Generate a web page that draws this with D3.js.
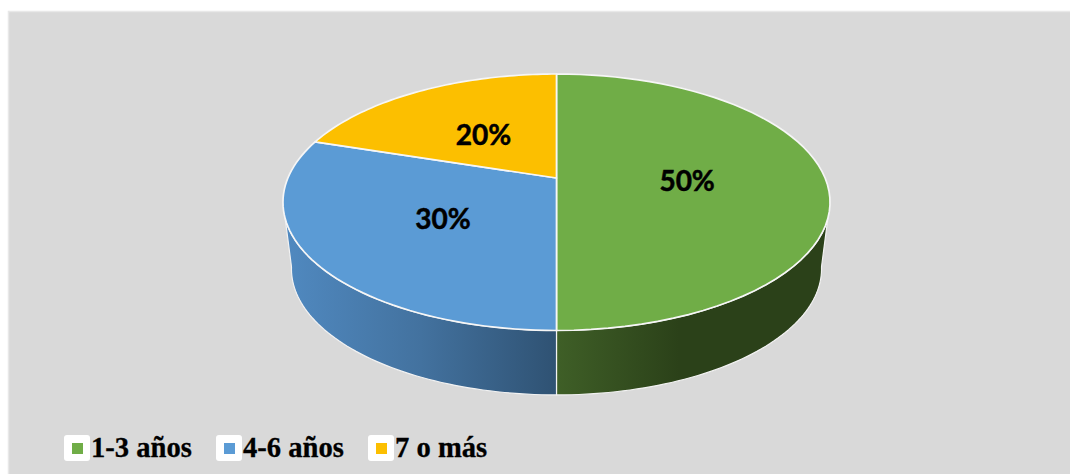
<!DOCTYPE html>
<html>
<head>
<meta charset="utf-8">
<script src="https://cdn.jsdelivr.net/npm/d3@7"></script>
<style>
  html, body { margin: 0; padding: 0; background: #fff; }
  svg { display: block; }
</style>
</head>
<body>
<div id="chart"></div>
<script>
const categories = ['1-3 años', '4-6 años', '7 o más'];
const values = [50, 30, 20];
const labels = ['50%', '30%', '20%'];
const topColors = ['#70ad47', '#5b9bd5', '#fcbf00'];

const width = 1070, height = 474;

const svg = d3.select('#chart').append('svg')
  .attr('width', width)
  .attr('height', height);

// panel
svg.append('rect')
  .attr('x', 8.5).attr('y', 11.5)
  .attr('width', width).attr('height', height)
  .attr('fill', '#d9d9d9')
  .attr('stroke', '#e8e8e8')
  .attr('stroke-width', 1.5);

// Tilted disc: perspective projection of the unit circle
const cx = 556.5, persp = -0.1891, radius = 268.6;
const yNear = 90, yApex = 178;
const topPoint = (a, r = 1) => {
  const s = Math.sin(a) * r, t = -Math.cos(a) * r, w = 1 + persp * t;
  return [cx + radius * s / w, (yNear * t + yApex) / w];
};
// bottom rim is the top rim a bit smaller and moved down
const bottomPoint = (a) => {
  const p = topPoint(a);
  return [cx + (p[0] - cx) * 0.969, 268.5 + (p[1] - 202) * 0.984];
};

const arcs = d3.pie().sort(null).value((d) => d)(values);
const line = d3.line();
const steps = (a0, a1) => d3.range(0, 61).map((i) => a0 + (a1 - a0) * i / 60);

// the wall shows from the front up to these angles off the front
const wallTop = 72 * Math.PI / 180, wallBottom = 80 * Math.PI / 180;

const defs = svg.append('defs');
const grad = (id, x1, x2, stops) => {
  const g = defs.append('linearGradient')
    .attr('id', id)
    .attr('gradientUnits', 'userSpaceOnUse')
    .attr('x1', x1).attr('x2', x2).attr('y1', 0).attr('y2', 0);
  stops.forEach((s) => g.append('stop').attr('offset', s[0]).attr('stop-color', s[1]));
};
grad('wall-green', 556, 830, [[0, '#3f5f27'], [0.45, '#2b4119'], [1, '#2b4119']]);
grad('wall-blue', 285, 556, [[0, '#5089c0'], [0.5, '#43729f'], [1, '#2f5273']]);

const wall = (side, fill) => {
  const pts = steps(Math.PI, Math.PI + side * wallTop).map((a) => topPoint(a))
    .concat(steps(Math.PI + side * wallBottom, Math.PI).map(bottomPoint));
  svg.append('path')
    .attr('d', line(pts) + 'Z')
    .attr('fill', fill)
    .attr('stroke', '#f2f2f2')
    .attr('stroke-width', 1.2)
    .attr('stroke-linejoin', 'round');
};
wall(-1, 'url(#wall-green)');
wall(1, 'url(#wall-blue)');

// top face
svg.append('g').selectAll('path')
  .data(arcs)
  .join('path')
  .attr('d', (d) => line([topPoint(0, 0)].concat(steps(d.startAngle, d.endAngle).map((a) => topPoint(a)))) + 'Z')
  .attr('fill', (d, i) => topColors[i])
  .attr('stroke', '#f6f6f6')
  .attr('stroke-width', 1.7)
  .attr('stroke-linejoin', 'round');

// data labels
svg.append('g').selectAll('text')
  .data(arcs)
  .join('text')
  .attr('x', (d) => topPoint((d.startAngle + d.endAngle) / 2, 0.49)[0] - 1)
  .attr('y', (d) => topPoint((d.startAngle + d.endAngle) / 2, 0.49)[1] + 13)
  .attr('text-anchor', 'middle')
  .attr('font-family', 'Lato, sans-serif')
  .attr('font-weight', 700)
  .attr('font-size', 28)
  .attr('fill', '#000')
  .attr('stroke', '#000')
  .attr('stroke-width', 0.5)
  .text((d, i) => labels[i]);

// legend
const legendX = d3.scalePoint().domain(categories).range([64, 368]);
const item = svg.append('g').selectAll('g')
  .data(categories)
  .join('g')
  .attr('transform', (d) => `translate(${legendX(d)},435)`);
item.append('rect')
  .attr('width', 26).attr('height', 26).attr('rx', 3)
  .attr('fill', '#fff');
item.append('rect')
  .attr('x', 8).attr('y', 8)
  .attr('width', 11).attr('height', 11)
  .attr('fill', (d, i) => topColors[i]);
item.append('text')
  .attr('x', 27).attr('y', 22)
  .attr('font-family', '"Liberation Serif", serif')
  .attr('font-weight', 700)
  .attr('font-size', 28.6)
  .attr('fill', '#000')
  .attr('stroke', '#000')
  .attr('stroke-width', 0.3)
  .text((d) => d);
</script>
</body>
</html>
